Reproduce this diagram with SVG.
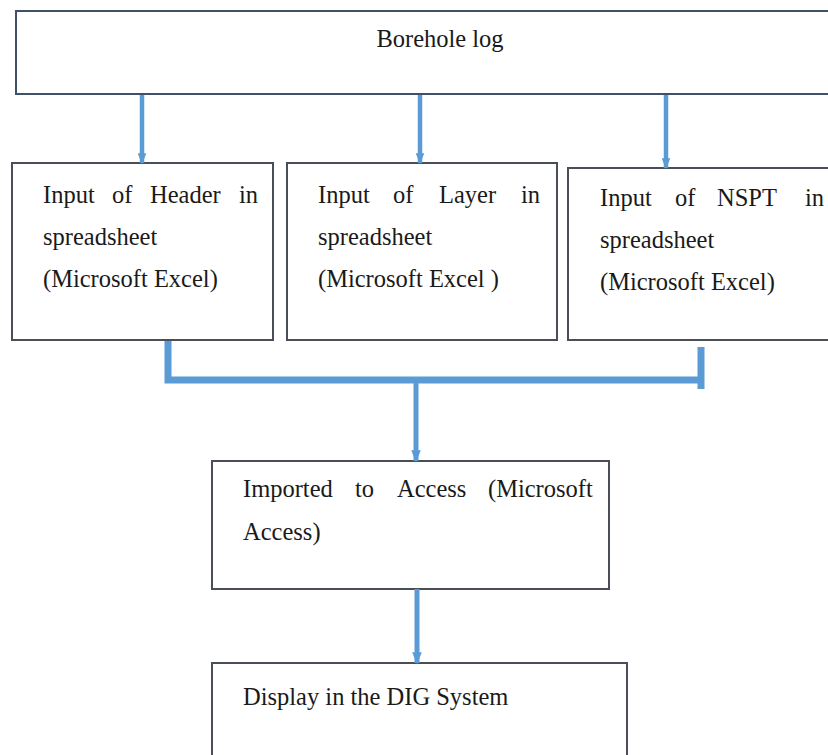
<svg xmlns="http://www.w3.org/2000/svg" width="828" height="755" viewBox="0 0 828 755">
<defs>
<style>
.box{fill:#fff;stroke:#4a4f57;stroke-width:2}
.t{font-family:"Liberation Serif","Times New Roman",serif;font-size:24.5px;fill:#1a1a1a}
.c{stroke:#5b9bd5;fill:none}
</style>
<marker id="ah" viewBox="0 0 10 8" refX="9" refY="4" markerWidth="2.4" markerHeight="2" orient="auto" markerUnits="strokeWidth">
<path d="M0,0 L10,4 L0,8 Z" fill="#5b9bd5"/>
</marker>
</defs>
<rect width="828" height="755" fill="#fff"/>
<g id="borehole">
<rect class="box" x="16" y="11" width="820" height="83" style="stroke:#3f5068"/>
<text class="t" x="440" y="47" text-anchor="middle">Borehole log</text>
</g>
<g id="header">
<rect class="box" x="12" y="163" width="261" height="177"/>
<text class="t"><tspan x="43" y="203">Input</tspan><tspan x="112" y="203">of</tspan><tspan x="150" y="203">Header</tspan><tspan x="239" y="203">in</tspan><tspan x="43" y="245">spreadsheet</tspan><tspan x="43" y="287">(Microsoft Excel)</tspan></text>
</g>
<g id="layer">
<rect class="box" x="287" y="163" width="270" height="177"/>
<text class="t"><tspan x="318" y="203">Input</tspan><tspan x="393" y="203">of</tspan><tspan x="439" y="203">Layer</tspan><tspan x="521" y="203">in</tspan><tspan x="318" y="245">spreadsheet</tspan><tspan x="318" y="287">(Microsoft Excel )</tspan></text>
</g>
<g id="nspt">
<rect class="box" x="568" y="168" width="270" height="172"/>
<text class="t"><tspan x="600" y="206">Input</tspan><tspan x="675" y="206">of</tspan><tspan x="717" y="206">NSPT</tspan><tspan x="805" y="206">in</tspan><tspan x="600" y="248">spreadsheet</tspan><tspan x="600" y="290">(Microsoft Excel)</tspan></text>
</g>
<g id="access">
<rect class="box" x="212" y="461" width="397" height="128"/>
<text class="t"><tspan x="243" y="497">Imported</tspan><tspan x="355" y="497">to</tspan><tspan x="397" y="497">Access</tspan><tspan x="488" y="497">(Microsoft</tspan><tspan x="243" y="540">Access)</tspan></text>
</g>
<g id="display">
<rect class="box" x="212" y="663" width="415" height="110"/>
<text class="t" x="243" y="705">Display in the DIG System</text>
</g>
<g id="connectors">
<line class="c" x1="142" y1="95" x2="142" y2="163" stroke-width="4.5" marker-end="url(#ah)"/>
<line class="c" x1="420" y1="95" x2="420" y2="163" stroke-width="4.5" marker-end="url(#ah)"/>
<line class="c" x1="666" y1="95" x2="666" y2="168" stroke-width="4.5" marker-end="url(#ah)"/>
<path class="c" d="M168,341 V380 H703" stroke-width="7"/>
<line class="c" x1="701" y1="347" x2="701" y2="389" stroke-width="7"/>
<line class="c" x1="416" y1="383" x2="416" y2="461" stroke-width="5" marker-end="url(#ah)"/>
<line class="c" x1="417" y1="589" x2="417" y2="663" stroke-width="5" marker-end="url(#ah)"/>
</g>
</svg>
